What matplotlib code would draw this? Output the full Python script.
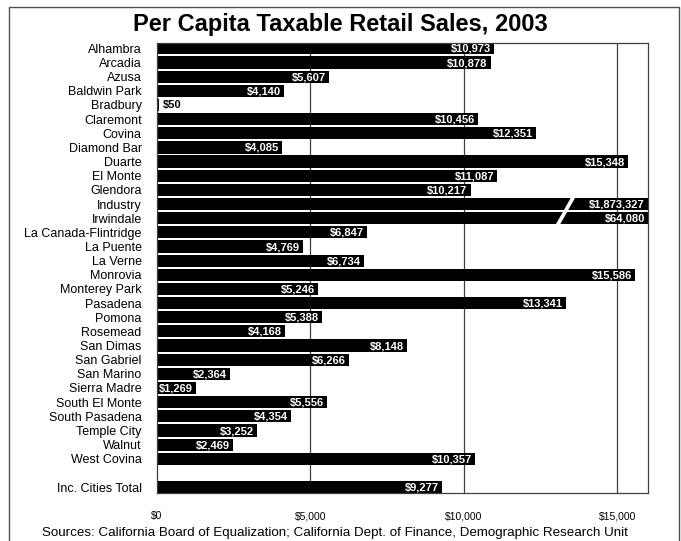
import matplotlib
matplotlib.use("Agg")
import matplotlib.pyplot as plt
from matplotlib.patches import Rectangle, Polygon

cities = ["Alhambra", "Arcadia", "Azusa", "Baldwin Park", "Bradbury", "Claremont",
          "Covina", "Diamond Bar", "Duarte", "El Monte", "Glendora", "Industry",
          "Irwindale", "La Canada-Flintridge", "La Puente", "La Verne", "Monrovia",
          "Monterey Park", "Pasadena", "Pomona", "Rosemead", "San Dimas",
          "San Gabriel", "San Marino", "Sierra Madre", "South El Monte",
          "South Pasadena", "Temple City", "Walnut", "West Covina"]
sales = [10973, 10878, 5607, 4140, 50, 10456, 12351, 4085, 15348, 11087, 10217,
         1873327, 64080, 6847, 4769, 6734, 15586, 5246, 13341, 5388, 4168, 8148,
         6266, 2364, 1269, 5556, 4354, 3252, 2469, 10357]
total_label = "Inc. Cities Total"
total_value = 9277
xticks = [0, 5000, 10000, 15000]
xmax = 16000

plt.rcParams['font.family'] = ['Liberation Sans', 'DejaVu Sans']

fig = plt.figure(figsize=(6.81, 5.41), dpi=100)
ax = fig.add_axes([157 / 681, 1 - 493 / 541, (648 - 157) / 681, (493 - 42.7) / 541])

labels = cities + [total_label]
values = sales + [total_value]
ypos = list(range(len(cities))) + [len(cities) + 1]

for y, v in zip(ypos, values):
    w = min(v, xmax)
    ax.barh(y, w, height=0.86, color="black", edgecolor="none", zorder=2)
    txt = f"${v:,}"
    if v < 500:
        ax.text(w + 150, y, txt, ha="left", va="center", fontsize=8,
                fontweight="bold", color="black", zorder=4)
    else:
        ax.text(w - 100, y + 0.04, txt, ha="right", va="center", fontsize=8,
                fontweight="bold", color="white", zorder=4)

# break mark across the two clipped bars (Industry, Irwindale)
broken = [y for y, v in zip(ypos, values) if v > xmax]
if broken:
    y0, y1 = min(broken) - 0.5, max(broken) + 0.5
    gap = 140
    top_x, bot_x = 13500, 12980
    ax.add_patch(Polygon([(top_x, y0), (top_x + gap, y0), (bot_x + gap, y1), (bot_x, y1)],
                         closed=True, facecolor="white", edgecolor="none", zorder=3))

for g in xticks[1:]:
    ax.axvline(g, color="#404040", linewidth=0.9, zorder=1)

ax.set_xlim(0, xmax)
ax.set_ylim(len(cities) + 1.42, -0.4)
ax.set_yticks(ypos)
ax.set_yticklabels(labels, fontsize=9)
ax.set_xticks(xticks)
ax.set_xticklabels([f"${t:,}" for t in xticks], fontsize=7.5)
ax.tick_params(axis="y", length=0, pad=11)
ax.tick_params(axis="x", length=0, pad=13)
for s in ax.spines.values():
    s.set_color("#404040")
    s.set_linewidth(0.9)

fig.text(0.5, 1 - 24 / 541, "Per Capita Taxable Retail Sales, 2003", ha="center",
         va="center", fontsize=17, fontweight="bold")
fig.text(0.492, 1 - 533 / 541,
         "Sources: California Board of Equalization; California Dept. of Finance, Demographic Research Unit",
         ha="center", va="center", fontsize=9.6)

fig.patches.append(Rectangle((9 / 681, -0.05), (679 - 9) / 681, 1.05 - 7 / 541,
                             transform=fig.transFigure, fill=False,
                             edgecolor="#505050", linewidth=1))

fig.savefig("out.png", dpi=100)
